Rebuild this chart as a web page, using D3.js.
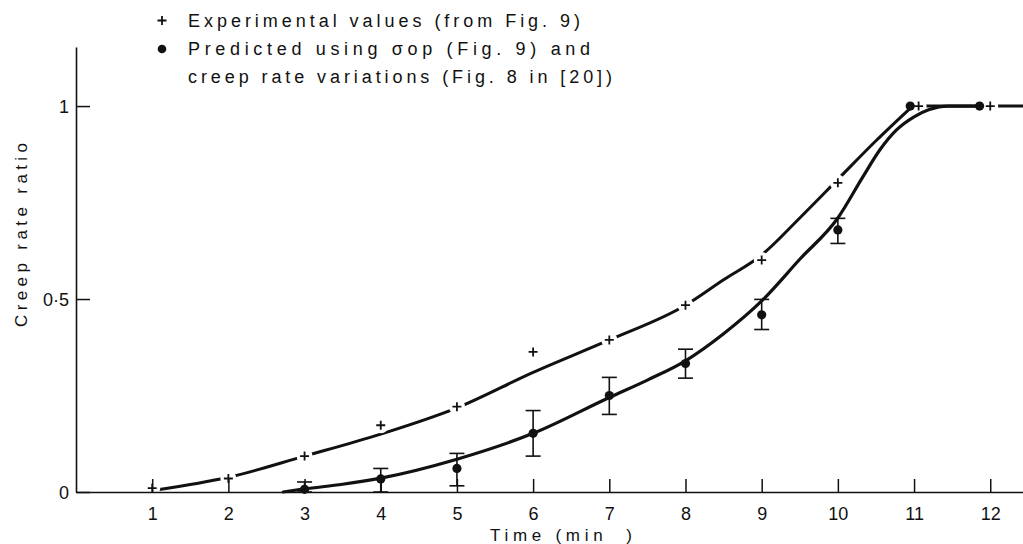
<!DOCTYPE html>
<html>
<head>
<meta charset="utf-8">
<script src="https://cdn.jsdelivr.net/npm/d3@7"></script>
<style>
  html, body { margin: 0; padding: 0; background: #fff; }
  svg { display: block; font-family: "Liberation Sans", Arial, sans-serif; }
</style>
</head>
<body>
<svg id="chart" width="1023" height="544"></svg>
<script>
// Creep rate ratio against time: measured values, prediction with scatter bands,
// and the two hand-fitted curves through them.

const xTicks = [1, 2, 3, 4, 5, 6, 7, 8, 9, 10, 11, 12];
const yTicks = [0, 0.5, 1];
const yTickLabels = ["0", "0·5", "1"];

// Experimental values (+)
const expTime  = [1, 2, 3, 4, 5, 6, 7, 8, 9, 10, 11.06, 12];
const expRatio = [0.01, 0.035, 0.093, 0.173, 0.221, 0.363, 0.394, 0.484, 0.601, 0.801, 1.0, 1.0];

// Predicted values (●) with their upper / lower limits
const predTime  = [3, 4, 5, 6, 7, 8, 9, 10, 10.95, 11.86];
const predRatio = [0.007, 0.034, 0.061, 0.152, 0.25, 0.333, 0.459, 0.679, 1.0, 1.0];
const predLow   = [0, 0, 0.016, 0.093, 0.201, 0.295, 0.421, 0.644, null, null];
const predHigh  = [0.026, 0.061, 0.1, 0.211, 0.297, 0.37, 0.499, 0.709, null, null];

// Curve drawn through the experimental values
const expCurveTime  = [1.05, 2, 3, 4, 5, 6, 7, 8, 8.5, 9, 9.5, 10, 10.5, 10.97];
const expCurveRatio = [0.005, 0.038, 0.093, 0.150, 0.218, 0.31, 0.394, 0.484, 0.55, 0.614, 0.71, 0.81, 0.91, 0.998];
// Plateau continuing past saturation
const plateauTime  = [11.1, 12.43];
const plateauRatio = [1.0, 1.0];

// Curve drawn through the predicted values
const predCurveTime  = [2.72, 3.0, 3.5, 4, 5, 6, 7, 7.5, 8, 8.5, 9, 9.5, 10, 10.33, 10.55, 10.77, 11, 11.2, 11.45, 11.86];
const predCurveRatio = [0, 0.008, 0.02, 0.036, 0.085, 0.152, 0.245, 0.29, 0.34, 0.41, 0.495, 0.603, 0.71, 0.817, 0.886, 0.938, 0.972, 0.991, 1.0, 1.0];

const legendLines = [
  "Experimental values (from Fig. 9)",
  "Predicted using σop (Fig. 9) and",
  "creep rate variations (Fig. 8 in [20])"
];
const xTitle = "Time (min  )";
const yTitle = "Creep rate ratio";

const svg = d3.select("#chart");
const ink = "#111";

const x = d3.scaleLinear().domain([0, 12.43]).range([76, 1023]);
const y = d3.scaleLinear().domain([0, 1.153]).range([492, 47]);

// ---- axes ----
const xAxis = d3.axisBottom(x)
  .tickValues(xTicks)
  .tickFormat(d3.format("d"))
  .tickSizeInner(-13)
  .tickSizeOuter(0)
  .tickPadding(0);

const gx = svg.append("g").attr("transform", `translate(0,${y(0)})`).call(xAxis);
gx.attr("font-family", null);
gx.select(".domain").attr("stroke", ink).attr("stroke-width", 1.6);
gx.selectAll(".tick line").attr("stroke", ink).attr("stroke-width", 1.5);
gx.selectAll(".tick text")
  .attr("fill", ink).attr("font-size", 18)
  .attr("y", 28).attr("dy", 0);

const yAxis = d3.axisLeft(y)
  .tickValues(yTicks)
  .tickFormat((d, i) => yTickLabels[i])
  .tickSizeInner(-14)
  .tickSizeOuter(0)
  .tickPadding(7);

const gy = svg.append("g").attr("transform", `translate(${x(0)},0)`).call(yAxis);
gy.attr("font-family", null);
gy.select(".domain").attr("stroke", ink).attr("stroke-width", 1.6);
gy.selectAll(".tick line").attr("stroke", ink).attr("stroke-width", 1.5);
gy.selectAll(".tick text")
  .attr("fill", ink).attr("font-size", 18)
  .attr("x", -7).attr("dy", "0.36em");

// ---- axis titles ----
svg.append("text")
  .attr("x", 490).attr("y", 541)
  .attr("textLength", 142).attr("lengthAdjust", "spacing")
  .attr("font-size", 17).attr("fill", ink)
  .style("white-space", "pre")
  .text(xTitle);

svg.append("text")
  .attr("transform", "translate(27,235) rotate(-90)")
  .attr("text-anchor", "middle")
  .attr("textLength", 184).attr("lengthAdjust", "spacing")
  .attr("font-size", 17).attr("fill", ink)
  .text(yTitle);

// ---- mask: the experimental curve is broken where it meets its markers ----
const defs = svg.append("defs");
const mask = defs.append("mask").attr("id", "expGaps").attr("maskUnits", "userSpaceOnUse")
  .attr("x", 0).attr("y", 0).attr("width", 1023).attr("height", 544);
mask.append("rect").attr("width", 1023).attr("height", 544).attr("fill", "#fff");
mask.selectAll("circle").data(expTime.map((t, i) => [t, expRatio[i]]))
  .join("circle")
  .attr("cx", d => x(d[0])).attr("cy", d => y(d[1])).attr("r", 8).attr("fill", "#000");

const line = d3.line().x(d => x(d[0])).y(d => y(d[1])).curve(d3.curveMonotoneX);
const zip = (a, b) => a.map((v, i) => [v, b[i]]);

const gExp = svg.append("g").attr("mask", "url(#expGaps)");
gExp.append("path")
  .attr("d", line(zip(expCurveTime, expCurveRatio)))
  .attr("fill", "none").attr("stroke", ink).attr("stroke-width", 3).attr("stroke-linecap", "round");
gExp.append("path")
  .attr("d", line(zip(plateauTime, plateauRatio)))
  .attr("fill", "none").attr("stroke", ink).attr("stroke-width", 3);

svg.append("path")
  .attr("d", line(zip(predCurveTime, predCurveRatio)))
  .attr("fill", "none").attr("stroke", ink).attr("stroke-width", 3.2).attr("stroke-linecap", "round");

// ---- error bars ----
const bars = predTime.map((t, i) => ({ t, lo: predLow[i], hi: predHigh[i] })).filter(d => d.lo !== null);
const gBar = svg.append("g").attr("stroke", ink).attr("stroke-width", 1.6).attr("fill", "none");
bars.forEach(d => {
  const cx = x(d.t);
  gBar.append("line").attr("x1", cx).attr("x2", cx).attr("y1", y(d.lo)).attr("y2", y(d.hi));
  gBar.append("line").attr("x1", cx - 7.5).attr("x2", cx + 7.5).attr("y1", y(d.hi)).attr("y2", y(d.hi));
  gBar.append("line").attr("x1", cx - 7.5).attr("x2", cx + 7.5).attr("y1", y(d.lo)).attr("y2", y(d.lo));
});

// ---- markers ----
const plus = "M-4.5,0H4.5M0,-4.5V4.5";
svg.append("g").selectAll("path").data(zip(expTime, expRatio)).join("path")
  .attr("transform", d => `translate(${x(d[0])},${y(d[1])})`)
  .attr("d", plus).attr("stroke", ink).attr("stroke-width", 1.8).attr("fill", "none");

svg.append("g").selectAll("circle").data(zip(predTime, predRatio)).join("circle")
  .attr("cx", d => x(d[0])).attr("cy", d => y(d[1])).attr("r", 4.6).attr("fill", ink);

// ---- legend ----
const legend = svg.append("g");
legend.append("path").attr("transform", "translate(162,20.5)")
  .attr("d", plus).attr("stroke", ink).attr("stroke-width", 1.8).attr("fill", "none");
legend.append("circle").attr("cx", 162).attr("cy", 49).attr("r", 4.3).attr("fill", ink);

const legendWidths = [392, 402, 424];
const legendBase = [27, 55, 83];
legendLines.forEach((s, i) => {
  legend.append("text")
    .attr("x", 188).attr("y", legendBase[i])
    .attr("textLength", legendWidths[i]).attr("lengthAdjust", "spacing")
    .attr("font-size", 18).attr("fill", ink)
    .text(s);
});
</script>
</body>
</html>
